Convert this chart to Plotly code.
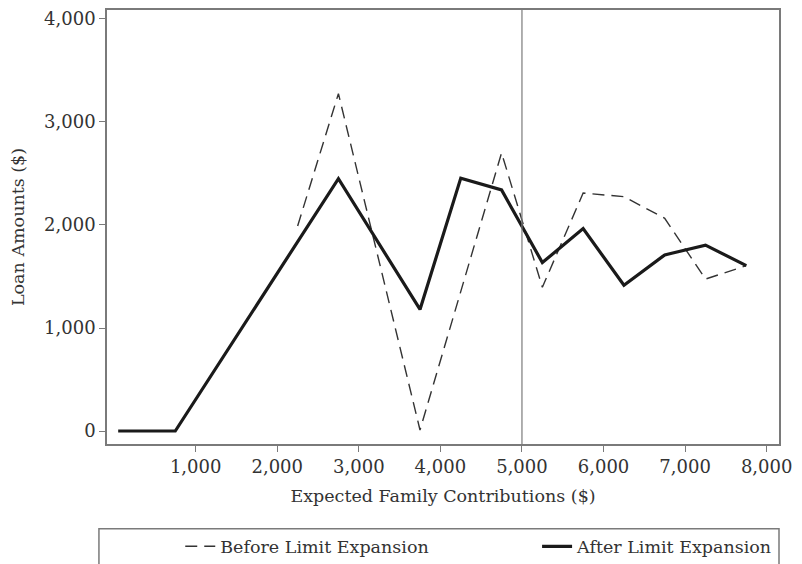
import plotly.graph_objects as go

# Data
efc_after = [50, 750, 2750, 3750, 4250, 4750, 5250, 5750, 6250, 6750, 7250, 7750]
loan_after = [0, 0, 2450, 1180, 2455, 2340, 1635, 1965, 1415, 1710, 1805, 1605]

efc_before = [2250, 2750, 3750, 4750, 5250, 5750, 6250, 6750, 7250, 7750]
loan_before = [1990, 3275, 10, 2700, 1395, 2310, 2275, 2065, 1475, 1605]

x_ticks = [1000, 2000, 3000, 4000, 5000, 6000, 7000, 8000]
y_ticks = [0, 1000, 2000, 3000, 4000]
cutoff = 5000

FONT = "DejaVu Serif"
AXIS_COLOR = "#7a7a7a"
TEXT_COLOR = "#333333"

fig = go.Figure()
fig.add_trace(go.Scatter(
    x=efc_before, y=loan_before, mode="lines", name="Before Limit Expansion",
    line=dict(color="#333333", width=1.4, dash="12px,7px"), legend="legend",
))
fig.add_trace(go.Scatter(
    x=efc_after, y=loan_after, mode="lines", name="After Limit Expansion",
    line=dict(color="#1a1a1a", width=3.2), legend="legend2",
))

fig.add_shape(type="line", xref="x", yref="paper", x0=cutoff, x1=cutoff, y0=0, y1=1,
              line=dict(color=AXIS_COLOR, width=1.2))
# legend frame
fig.add_shape(type="rect", xref="paper", yref="paper", x0=-0.012, x1=1.0, y0=-0.195, y1=-0.32,
              line=dict(color=AXIS_COLOR, width=1.5), layer="above")

legend_common = dict(orientation="h", yanchor="middle", y=-0.236, xanchor="left",
                     bgcolor="rgba(0,0,0,0)", borderwidth=0,
                     font=dict(family=FONT, size=17.5, color=TEXT_COLOR))

fig.update_layout(
    width=802, height=564,
    margin=dict(l=99, r=31, t=2, b=128, autoexpand=False),
    paper_bgcolor="white", plot_bgcolor="white",
    font=dict(family=FONT, size=17, color=TEXT_COLOR),
    showlegend=True,
    legend=dict(x=0.109, **legend_common),
    legend2=dict(x=0.640, **legend_common),
)
fig.update_xaxes(
    range=[-87, 8151], tickvals=x_ticks, tickformat=",",
    showgrid=False, zeroline=False,
    showline=True, linecolor=AXIS_COLOR, linewidth=1.5, mirror=True,
    ticks="outside", ticklen=6, tickcolor=AXIS_COLOR, tickwidth=1.2,
    tickfont=dict(family=FONT, size=18, color=TEXT_COLOR),
    title=dict(text="Expected Family Contributions ($)", standoff=13,
               font=dict(family=FONT, size=17.5, color=TEXT_COLOR)),
)
fig.update_yaxes(
    range=[-126, 4087], tickvals=y_ticks, tickformat=",",
    showgrid=False, zeroline=False,
    showline=True, linecolor=AXIS_COLOR, linewidth=1.5, mirror=True,
    ticks="outside", ticklen=6, tickcolor=AXIS_COLOR, tickwidth=1.2,
    tickfont=dict(family=FONT, size=18, color=TEXT_COLOR),
    title=dict(text="Loan Amounts ($)", standoff=15,
               font=dict(family=FONT, size=17.5, color=TEXT_COLOR)),
)

fig.write_html("out.html")
